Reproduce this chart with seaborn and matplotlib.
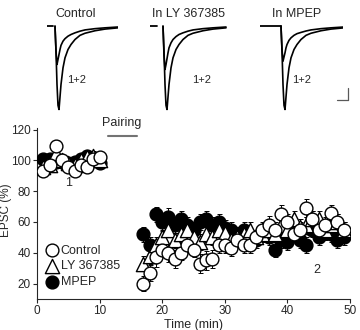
import numpy as np
import pandas as pd
import matplotlib
matplotlib.use("Agg")
import matplotlib.pyplot as plt
import seaborn as sns

# ---- time course data (EPSC %, mean and SEM) ----
time_base = [1, 2, 3, 4, 5, 6, 7, 8, 9, 10]
time_post = list(range(17, 50))
time_min = time_base + time_post

ctrl_mean = [93, 97, 109, 100, 96, 93, 97, 96, 101, 102,
             20, 27, 37, 42, 40, 36, 40, 45, 42, 33, 35, 36, 45, 45, 43, 48, 45,
             45, 50, 55, 58, 55, 65, 60, 52, 55, 69, 62, 55, 58, 66, 60, 55]
ctrl_sem = [3, 3, 4, 3, 3, 3, 3, 3, 3, 3,
            5, 5, 6, 5, 6, 6, 5, 5, 5, 6, 6, 6, 5, 5, 5, 5, 5,
            5, 5, 5, 6, 5, 6, 5, 5, 5, 6, 5, 5, 5, 5, 5, 5]

ly_mean = [96, 97, 105, 100, 98, 97, 100, 102, 103, 100,
           33, 38, 45, 50, 55, 48, 52, 55, 50, 47, 52, 50, 55, 53, 48, 50, 52,
           55, 50, 52, 55, 52, 58, 55, 62, 57, 58, 62, 62, 55, 58, 60, 55]
ly_sem = [3, 3, 3, 3, 3, 3, 3, 3, 3, 3,
          5, 5, 5, 5, 5, 5, 5, 5, 5, 5, 5, 5, 5, 5, 5, 5, 5,
          5, 5, 5, 5, 5, 5, 5, 5, 5, 5, 5, 5, 5, 5, 5, 5]

mpep_mean = [101, 101, 99, 99, 98, 99, 101, 103, 101, 98,
             52, 45, 65, 60, 63, 58, 62, 58, 55, 60, 62, 58, 60, 56, 55, 52, 55,
             50, 48, 54, 50, 42, 48, 47, 52, 48, 45, 55, 50, 53, 52, 48, 50]
mpep_sem = [2, 2, 2, 2, 2, 2, 2, 2, 2, 2,
            5, 5, 5, 6, 6, 5, 5, 5, 5, 5, 5, 5, 5, 5, 5, 5, 5,
            5, 5, 5, 5, 5, 5, 5, 5, 5, 5, 5, 5, 5, 5, 5, 5]

series_names = ["Control", "LY 367385", "MPEP"]
pairing_start, pairing_end = 11.3, 16.0

# ---- example EPSC traces (normalised current, 1 = before, 2 = after) ----
trace_t = [0, 1, 2, 3, 4, 5, 6, 8, 10, 13, 16, 20, 25, 30, 40, 50, 63]
trace1 = [0, -0.3, -0.7, -0.95, -1.0, -0.85, -0.7, -0.5, -0.38, -0.28, -0.22,
          -0.16, -0.11, -0.085, -0.055, -0.035, -0.02]
trace2_ctrl = [0, -0.3, -0.46, -0.4, -0.34, -0.28, -0.23, -0.18, -0.15, -0.12,
               -0.1, -0.08, -0.06, -0.045, -0.03, -0.02, -0.01]
trace2_ly = [0, -0.35, -0.52, -0.46, -0.39, -0.32, -0.26, -0.2, -0.16, -0.125,
             -0.1, -0.08, -0.06, -0.045, -0.03, -0.02, -0.01]
trace2_mpep = [0, -0.28, -0.42, -0.37, -0.32, -0.26, -0.22, -0.17, -0.14, -0.11,
               -0.09, -0.075, -0.058, -0.045, -0.03, -0.02, -0.01]
trace_titles = ["Control", "In LY 367385", "In MPEP"]
baseline_t = [[-8, -2], [-13, -6], [-21, 0]]

sns.set_style("ticks")
plt.rcParams['font.family'] = ['Liberation Sans', 'DejaVu Sans']
plt.rcParams['font.size'] = 9

fig = plt.figure(figsize=(3.6, 3.3), dpi=100)

# ---- trace panels ----
trace_boxes = [(47, 118), (150, 232), (260, 343)]
onsets = [55, 163, 281]
for i, (title, tr2) in enumerate(zip(trace_titles, [trace2_ctrl, trace2_ly, trace2_mpep])):
    x0, x1 = trace_boxes[i]
    on = onsets[i]
    ax_t = fig.add_axes([x0 / 360, 1 - 112 / 330, (x1 - x0) / 360, 90 / 330])
    df_tr = pd.DataFrame({"t": trace_t * 2, "I": trace1 + tr2,
                          "trace": ["1"] * len(trace_t) + ["2"] * len(trace_t)})
    sns.lineplot(data=df_tr, x="t", y="I", units="trace", estimator=None,
                 color="black", lw=1.2, ax=ax_t)
    ax_t.plot(baseline_t[i], [0, 0], color="black", lw=1.3)
    ax_t.set_xlim(x0 - on, x1 - on)
    ax_t.set_ylim(-1.03, 0.05)
    ax_t.axis("off")
    fig.text([76, 188, 297][i] / 360, 1 - 14 / 330, title,
             ha="center", va="center", fontsize=9)
    fig.text([77, 202, 302][i] / 360, 1 - 80 / 330, "1+2", ha="center", va="center",
             fontsize=8)

# scale bar
fig.add_artist(plt.Line2D([348 / 360, 348 / 360], [1 - 88 / 330, 1 - 100 / 330],
                          color="0.35", lw=0.9))
fig.add_artist(plt.Line2D([337 / 360, 348 / 360], [1 - 100 / 330, 1 - 100 / 330],
                          color="0.35", lw=0.9))

# ---- time course panel ----
ax = fig.add_axes([37 / 360, 1 - 299 / 330, 313 / 360, 171 / 330])

df = pd.DataFrame({
    "time": time_min * 3,
    "epsc": ctrl_mean + ly_mean + mpep_mean,
    "sem": ctrl_sem + ly_sem + mpep_sem,
    "group": [g for g in series_names for _ in time_min],
})

styles = {
    "MPEP": dict(marker="o", face="black", size=85),
    "LY 367385": dict(marker="^", face="white", size=105),
    "Control": dict(marker="o", face="white", size=85),
}
for name in ["MPEP", "LY 367385", "Control"]:
    sub = df[df["group"] == name]
    st = styles[name]
    ax.errorbar(sub["time"], sub["epsc"], yerr=sub["sem"], fmt="none",
                ecolor="black", elinewidth=0.7, capsize=1.8, capthick=0.7, zorder=2)
    sns.scatterplot(data=sub, x="time", y="epsc", marker=st["marker"],
                    color=st["face"], edgecolor="black", linewidth=1.0,
                    s=st["size"], ax=ax, zorder=3, label=name)

ax.set_xlim(0, 50)
ax.set_ylim(10, 121)
ax.set_xticks([0, 10, 20, 30, 40, 50])
ax.set_yticks([20, 40, 60, 80, 100, 120])
ax.set_xlabel("Time (min)", fontsize=9, labelpad=1)
ax.set_ylabel("EPSC (%)", fontsize=8.5, va="center")
ax.yaxis.set_label_coords(-0.1, 0.52)
ax.tick_params(labelsize=8.5, length=3, width=0.8, pad=1.5)
for s in ["left", "bottom"]:
    ax.spines[s].set_linewidth(0.8)
sns.despine(ax=ax)

ax.plot([pairing_start, pairing_end], [116, 116], color="0.45", lw=1.5, clip_on=False)
ax.text(13.6, 124, "Pairing", ha="center", va="center", fontsize=9)
ax.text(5, 85, "1", ha="center", va="center", fontsize=9)
ax.text(44.7, 29, "2", ha="center", va="center", fontsize=9)

handles, labels = ax.get_legend_handles_labels()
order = [labels.index(n) for n in series_names]
ax.legend([handles[k] for k in order], [labels[k] for k in order],
          loc="lower left", bbox_to_anchor=(0.0, 0.02), frameon=False,
          fontsize=9, handletextpad=0.1, labelspacing=0.3, borderaxespad=0.2,
          handlelength=1.2)

fig.savefig("out.png", dpi=100)
